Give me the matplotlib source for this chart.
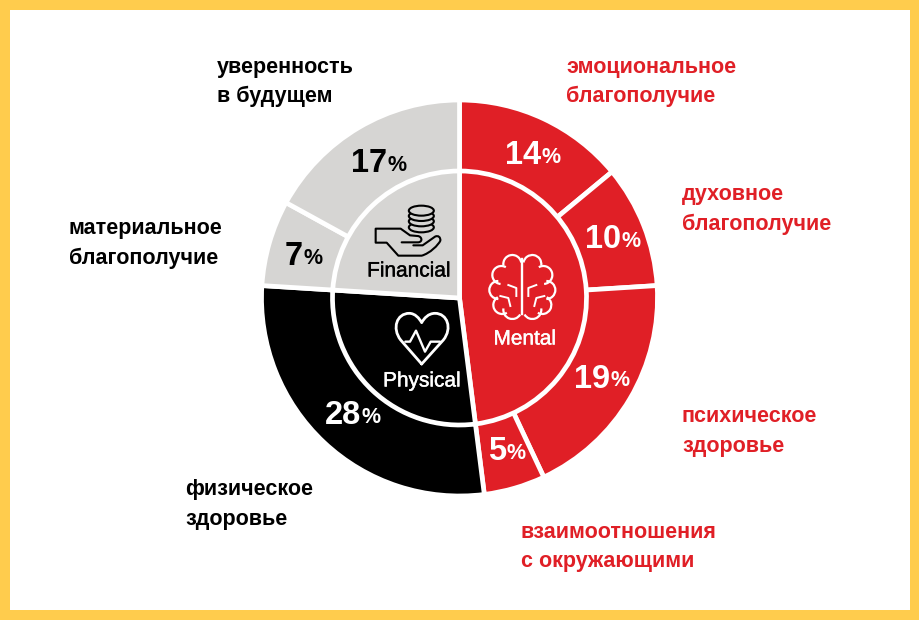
import numpy as np
import matplotlib
matplotlib.use("Agg")
import matplotlib.pyplot as plt
import matplotlib.patheffects as pe
from matplotlib.patches import Rectangle, Arc, Ellipse, PathPatch
from matplotlib.path import Path

W, H = 920, 620
RED, GREY, BLACK, YELLOW = "#E01F26", "#D6D5D3", "#000000", "#FFCC4D"

# data
outer_values = [14, 10, 19, 5, 28, 7, 17]
outer_colors = [RED, RED, RED, RED, BLACK, GREY, GREY]
outer_text = ["white", "white", "white", "white", "white", "black", "black"]
inner_names = ["Mental", "Physical", "Financial"]
inner_values = [48, 28, 24]
inner_colors = [RED, BLACK, GREY]
labels = [
    ["эмоциональное", "благополучие"],
    ["духовное", "благополучие"],
    ["психическое", "здоровье"],
    ["взаимоотношения", "с окружающими"],
    ["физическое", "здоровье"],
    ["материальное", "благополучие"],
    ["уверенность", "в будущем"],
]
label_colors = [RED, RED, RED, RED, "black", "black", "black"]

# placement in reference pixels
label_xy = [(566, 67), (682, 195), (682, 417), (521, 532), (185, 490), (69, 229), (217, 67)]
pct_xy = [(541, 156), (621, 240), (610, 379), (506, 452), (361, 416), (303, 257), (387, 164)]
inner_xy = [(525, 339), (422, 381), (409, 271)]
CX, CY, R1, R2 = 459.5, 298, 198, 127

fig = plt.figure(figsize=(W / 100, H / 100), dpi=100, facecolor="white")
ax = fig.add_axes([0, 0, 1, 1])
Y = lambda y: H - y

ax.pie(outer_values, colors=outer_colors, startangle=90, counterclock=False,
       center=(CX, Y(CY)), radius=R1,
       wedgeprops=dict(edgecolor="white", linewidth=3.4))
ax.pie(inner_values, colors=inner_colors, startangle=90, counterclock=False,
       center=(CX, Y(CY)), radius=R2,
       wedgeprops=dict(edgecolor="white", linewidth=3.4))
ax.set_xlim(0, W)
ax.set_ylim(0, H)
ax.set_aspect("equal")
ax.axis("off")

# frame
for r in [(0, 0, W, 10), (0, H - 10, W, 10), (0, 0, 10, H), (W - 10, 0, 10, H)]:
    ax.add_patch(Rectangle(r[:2], r[2], r[3], color=YELLOW, lw=0, zorder=5))

for (x, y), pair, col in zip(label_xy, labels, label_colors):
    for i, line in enumerate(pair):
        ax.text(x, Y(y + i * 29.5), line, color=col, fontsize=15.5, fontweight="bold",
                family="Liberation Sans", ha="left", va="center", zorder=6)

for (x, y), v, col in zip(pct_xy, outer_values, outer_text):
    ax.text(x, Y(y), str(v), color=col, fontsize=23.5, fontweight="bold", family="Liberation Sans",
            ha="right", va="center", zorder=6)
    ax.text(x + 0.5, Y(y + 1.5), "%", color=col, fontsize=15.5, fontweight="bold", family="Liberation Sans",
            ha="left", va="center", zorder=6)

for (x, y), name, col in zip(inner_xy, inner_names, ["white", "white", "black"]):
    t = ax.text(x, Y(y), name, color=col, fontsize=15, fontweight="normal", family="Liberation Sans",
                ha="center", va="center", zorder=6)
    t.set_path_effects([pe.withStroke(linewidth=0.3, foreground=col)])

# icons, outlined in crop coordinates of the reference
P = lambda zx, zy: (330 + zx / 3, H - (190 + zy / 3))

def curve(cmds, color, lw=1.7):
    verts, codes = [], []
    for c, pts in cmds:
        for p in pts:
            verts.append(P(*p))
            codes.append({"M": Path.MOVETO, "L": Path.LINETO, "C": Path.CURVE4}[c])
    ax.add_patch(PathPatch(Path(verts, codes), fc="none", ec=color, lw=lw, zorder=6,
                           capstyle="round", joinstyle="round"))

# coins
for zy in [112, 94, 78, 62]:
    x0, y0 = P(274, zy)
    ax.add_patch(Ellipse((x0, y0), 25, 10, fc=GREY, ec="black", lw=1.5, zorder=6))
# hand
curve([("M", [(215, 157)]), ("L", [(265, 157)]),
       ("C", [(280, 155), (275, 138), (262, 138)]),
       ("L", [(240, 136), (212, 116), (137, 116), (137, 158), (170, 158), (205, 197), (275, 197)]),
       ("C", [(300, 190), (325, 165), (331, 152)]),
       ("C", [(332, 142), (325, 135), (315, 140)]),
       ("L", [(278, 166), (250, 166)])], "black", 1.5)
# heart
curve([("M", [(275, 522)]), ("L", [(212, 450)]),
       ("C", [(185, 415), (200, 370), (238, 370)]),
       ("C", [(255, 370), (268, 385), (275, 398)]),
       ("C", [(282, 385), (295, 370), (315, 370)]),
       ("C", [(352, 370), (368, 415), (340, 450)]),
       ("L", [(275, 522)])], "white", 2.0)
curve([("M", [(226, 455)]), ("L", [(240, 455), (258, 422), (285, 485), (302, 455), (330, 455)])], "white", 1.7)
# brain
cx = 330 + 577 / 3
ax.plot([cx, cx], [Y(259), Y(314)], color="white", lw=1.7, zorder=6)
for s in (-1, 1):
    for dx, dy, r, a0, a1 in [(10, 264, 9, 10, 190), (21, 275, 9, 60, 265),
                              (24, 290, 9, 90, 270), (20, 305, 9, 120, 300),
                              (10, 310, 9, 170, 330)]:
        t0, t1 = (a0, a1) if s == -1 else (180 - a1, 180 - a0)
        ax.add_patch(Arc((cx + s * dx, Y(dy)), 2 * r, 2 * r, theta1=t0, theta2=t1,
                         color="white", lw=1.6, zorder=6))
    ax.plot([cx + s * 14, cx + s * 6, cx + s * 6], [Y(285), Y(288), Y(296)], color="white", lw=1.4, zorder=6)
    ax.plot([cx + s * 22, cx + s * 14, cx + s * 12], [Y(296), Y(298), Y(306)], color="white", lw=1.4, zorder=6)

fig.savefig("out.png", dpi=100, facecolor="white")
